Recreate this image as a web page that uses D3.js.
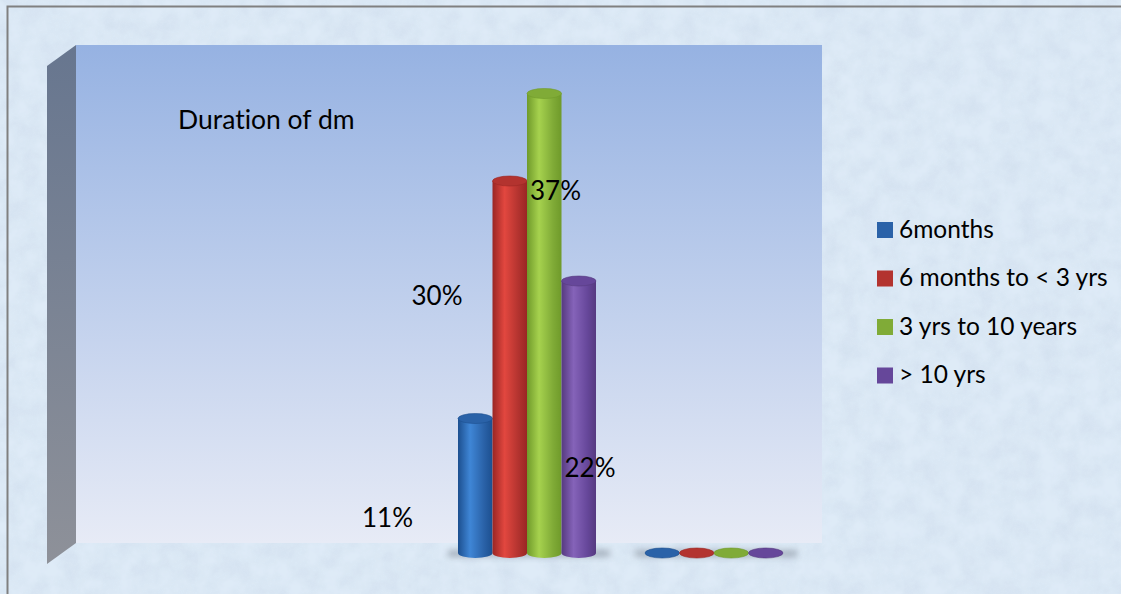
<!DOCTYPE html>
<html>
<head>
<meta charset="utf-8">
<script src="https://cdn.jsdelivr.net/npm/d3@7"></script>
<style>
  body { margin: 0; background: #dde9f5; overflow: hidden; }
  text { font-family: Lato, "Open Sans", sans-serif; fill: #000; font-variant-ligatures: none; font-feature-settings: "liga" 0, "clig" 0; }
</style>
</head>
<body>
<script>
// Data
var categories = ['cat1', 'cat2'];
var series = ['6months', '6 months to < 3 yrs', '3 yrs to 10 years', '> 10 yrs'];
var values = [
  [0.11, 0.30, 0.37, 0.22],
  [0, 0, 0, 0]
];
var labels = ['11%', '30%', '37%', '22%'];
var title = 'Duration of dm';

var W = 1121, H = 594;
var svg = d3.select('body').append('svg')
  .attr('width', W).attr('height', H).style('display', 'block');
var defs = svg.append('defs');

// textured background
var noise = defs.append('filter').attr('id', 'tex').attr('x', 0).attr('y', 0).attr('width', 1).attr('height', 1);
noise.append('feTurbulence').attr('type', 'fractalNoise').attr('baseFrequency', '0.05').attr('numOctaves', 4).attr('seed', 7).attr('result', 'n');
noise.append('feColorMatrix').attr('type', 'matrix')
  .attr('values', '0 0 0 0 0.62  0 0 0 0 0.72  0 0 0 0 0.84  0 0 0 1.1 -0.3');
svg.append('rect').attr('width', W).attr('height', H).attr('fill', '#deebf7');
svg.append('rect').attr('width', W).attr('height', H).attr('filter', 'url(#tex)').attr('opacity', 0.9);

// frame
svg.append('path').attr('d', 'M7.5,' + H + 'V6.5H' + W)
  .attr('fill', 'none').attr('stroke', '#808080').attr('stroke-width', 2);

// walls
var wallL = 76, wallR = 822, wallT = 45, wallB = 543, depth = 29, drop = 21;
var wg = defs.append('linearGradient').attr('id', 'wall').attr('x1', 0).attr('y1', 0).attr('x2', 0).attr('y2', 1);
wg.append('stop').attr('offset', '0%').attr('stop-color', '#96b2e2');
wg.append('stop').attr('offset', '100%').attr('stop-color', '#e7ebf6');
var sg = defs.append('linearGradient').attr('id', 'side').attr('x1', 0).attr('y1', 0).attr('x2', 0).attr('y2', 1);
sg.append('stop').attr('offset', '0%').attr('stop-color', '#67768f');
sg.append('stop').attr('offset', '100%').attr('stop-color', '#8e9199');

svg.append('rect').attr('x', wallL).attr('y', wallT)
  .attr('width', wallR - wallL).attr('height', wallB - wallT).attr('fill', 'url(#wall)');
svg.append('path')
  .attr('d', 'M' + (wallL - depth) + ',' + (wallT + drop) + 'L' + wallL + ',' + wallT +
    'L' + wallL + ',' + wallB + 'L' + (wallL - depth) + ',' + (wallB + drop) + 'Z')
  .attr('fill', 'url(#side)');

// scales
var color = d3.scaleOrdinal().domain(series)
  .range([['#1c4f8f', '#3f86d6', '#2a62a8'], ['#9a2624', '#e2473f', '#b3332f'],
          ['#6f9a2a', '#a6d24e', '#80ab37'], ['#563a80', '#8563b9', '#66479a']]);
var x0 = d3.scalePoint().domain(categories).range([527, 714]);
var x1 = d3.scaleBand().domain(series).range([-69, 69]);
var y = d3.scaleLinear().domain([0, 0.4]).range([556, 56]);
var ry = 5;

series.forEach(function(s, i) {
  var c = color(s);
  var g = defs.append('linearGradient').attr('id', 'g' + i)
    .attr('x1', 0).attr('x2', 1).attr('y1', 0).attr('y2', 0);
  g.append('stop').attr('offset', '0%').attr('stop-color', c[0]);
  g.append('stop').attr('offset', '35%').attr('stop-color', c[1]);
  g.append('stop').attr('offset', '75%').attr('stop-color', c[2]);
  g.append('stop').attr('offset', '100%').attr('stop-color', c[0]);
});

// floor shadows
var blur = defs.append('filter').attr('id', 'blur').attr('x', '-20%').attr('y', '-200%').attr('width', '140%').attr('height', '500%');
blur.append('feGaussianBlur').attr('stdDeviation', 3);
categories.forEach(function(c) {
  svg.append('rect')
    .attr('x', x0(c) + x1.range()[0] - 10).attr('y', y(0) - 6)
    .attr('width', x1.range()[1] - x1.range()[0] + 24).attr('height', 7)
    .attr('fill', '#6b7380').attr('opacity', 0.45).attr('filter', 'url(#blur)');
});

// cylinders
var groups = svg.selectAll('.grp').data(values).enter().append('g')
  .attr('class', 'grp')
  .attr('transform', function(d, i) { return 'translate(' + x0(categories[i]) + ',0)'; });

var bars = groups.selectAll('.bar').data(function(d) {
  return d.map(function(v, j) { return {s: series[j], j: j, v: v}; });
}).enter().append('g').attr('class', 'bar');

bars.append('path')
  .attr('d', function(d) {
    var bx = x1(d.s), bw = x1.bandwidth(), rx = bw / 2;
    var top = y(d.v), base = y(0) - 3;
    if (d.v === 0) return null;
    return 'M' + bx + ',' + top + 'L' + bx + ',' + base +
      'A' + rx + ',' + ry + ' 0 0 0 ' + (bx + bw) + ',' + base +
      'L' + (bx + bw) + ',' + top + 'Z';
  })
  .attr('fill', function(d) { return 'url(#g' + d.j + ')'; });

bars.append('ellipse')
  .attr('cx', function(d) { return x1(d.s) + x1.bandwidth() / 2; })
  .attr('cy', function(d) { return d.v === 0 ? y(0) - 3 : y(d.v); })
  .attr('rx', function(d) { return x1.bandwidth() / 2; })
  .attr('ry', ry)
  .attr('fill', function(d) { return color(d.s)[2]; })
  .attr('stroke', function(d) { return color(d.s)[0]; })
  .attr('stroke-width', 0.6);

// data labels (offsets from each bar's top-left)
var labelDx = [-96, -81, 3, 3];
var labelDy = [108, 124, 106, 196];
svg.selectAll('.lbl').data(values[0]).enter().append('text')
  .attr('class', 'lbl')
  .attr('x', function(d, j) { return x0(categories[0]) + x1(series[j]) + labelDx[j]; })
  .attr('y', function(d, j) { return y(d) + labelDy[j]; })
  .attr('font-size', 26)
  .text(function(d, j) { return labels[j]; });

// title
svg.append('text').attr('x', 178).attr('y', 129).attr('font-size', 26.5).text(title);

// legend
var legend = svg.selectAll('.legend').data(series).enter().append('g')
  .attr('class', 'legend')
  .attr('transform', function(d, i) { return 'translate(877,' + (222 + i * 48.5) + ')'; });
legend.append('rect').attr('width', 16).attr('height', 16)
  .attr('fill', function(d) { return color(d)[2]; });
legend.append('text').attr('x', 22).attr('y', 15.5).attr('font-size', 24.5)
  .text(function(d) { return d; });
</script>
</body>
</html>
